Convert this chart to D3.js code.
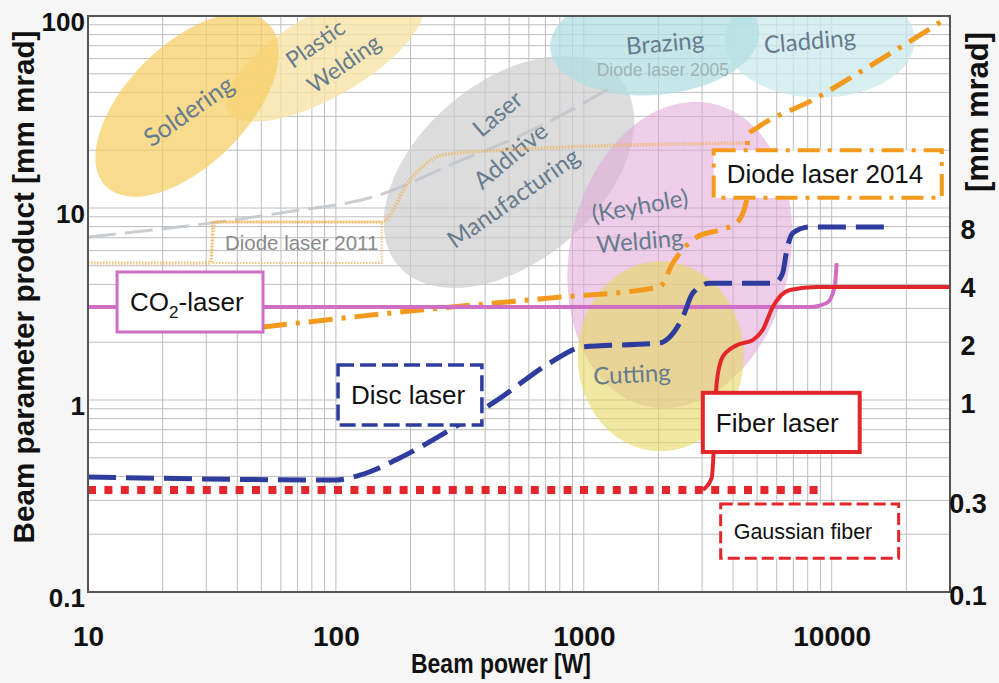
<!DOCTYPE html>
<html>
<head>
<meta charset="utf-8">
<style>
  body { margin: 0; background: #f6f6f6; }
  svg { display: block; }
  .tick text { font-family: "Liberation Sans", Arial, sans-serif; font-weight: bold; fill: #111; }
  .area-label { font-family: Lato, "Open Sans", sans-serif; fill: #677b8e; }
  .box-label { font-family: "Liberation Sans", Arial, sans-serif; fill: #111; }
</style>
</head>
<body>
<svg id="chart" width="999" height="683"></svg>
<script src="https://d3js.org/d3.v7.min.js"></script>
<script>
// axis ticks
var xTicks = [10, 100, 1000, 10000];
var yTicks = [0.1, 1, 10, 100];
var yTicksRight = [0.1, 0.3, 1, 2, 4, 8];

// curves: [beam power W, BPP mm mrad]
var diode2005 = [[10, 7.06], [59, 9.4], [150, 11.7], [288, 16.7], [622, 25.5], [1273, 42]];
var diode2011 = [[10, 5.17], [31, 5.17], [32.5, 8.45], [153, 8.45], [199, 14], [270, 18.9], [458, 20], [4380, 21.8]];
var diode2014 = [[50.8, 2.4], [218, 2.94], [730, 3.4], [2023, 3.88], [2285, 5.17], [2857, 7.06], [3532, 7.68],
                 [4137, 8.36], [4540, 11], [4580, 24], [4985, 26.1], [8375, 36.5], [12980, 51], [30000, 100]];
var co2Laser = [[10, 3.05], [3000, 3.05], [8150, 3.05], [9550, 3.2], [10280, 3.88], [10470, 5.17]];
var discLaser = [[10, 0.397], [99, 0.383], [125, 0.406], [181, 0.499], [288, 0.698], [458, 1.02], [730, 1.56],
                 [991, 1.89], [2023, 1.98], [2222, 2.13], [2506, 2.7], [2754, 3.61], [3224, 4.06], [5888, 4.06],
                 [6339, 4.58], [6590, 6.04], [6970, 7.41], [8150, 7.96], [17620, 7.96]];
var gaussianFiber = [[10, 0.34], [9200, 0.34]];
var fiberLaser = [[3020, 0.34], [3281, 0.393], [3375, 0.723], [3435, 1.23], [3633, 1.68], [4137, 1.93], [4800, 2.05],
                  [5270, 2.32], [5781, 3.05], [6775, 3.74], [8710, 3.88], [30000, 3.88]];

// application areas: centre [W, mm mrad], half axes in decades
var areas = [
  { p: 90.4, v: 62.7, rx: 0.452, ry: 0.219, tilt: -30, fill: '#f8e4a6', op: 0.8 },
  { p: 25.1, v: 34.4, rx: 0.464, ry: 0.3125, tilt: -45, fill: '#f7cd62', op: 0.72 },
  { p: 499, v: 15.4, rx: 0.585, ry: 0.469, tilt: -40, fill: '#cdcdcd', op: 0.7 },
  { p: 8950, v: 75, rx: 0.383, ry: 0.3, tilt: 0, fill: '#cbeaee', op: 0.75 },
  { p: 1932, v: 75, rx: 0.423, ry: 0.286, tilt: -5, fill: '#b2dfe2', op: 0.75 },
  { p: 2438, v: 5.69, rx: 0.444, ry: 0.807, tilt: 12, fill: '#e0a8d8', op: 0.58 },
  { p: 2042, v: 1.69, rx: 0.335, ry: 0.495, tilt: 0, fill: '#e6d866', op: 0.62 }
];
var areaLabels = [
  { text: 'Soldering', p: 25.3, v: 32.4, rot: -35, size: 25 },
  { text: 'Plastic', p: 82.2, v: 72.3, rot: -35, size: 23 },
  { text: 'Welding', p: 107, v: 56.9, rot: -35, size: 23 },
  { text: 'Laser', p: 446, v: 31.3, rot: -40, size: 24 },
  { text: 'Additive', p: 503, v: 18.9, rot: -40, size: 24 },
  { text: 'Manufacturing', p: 517, v: 11.4, rot: -35, size: 24 },
  { text: 'Brazing', p: 2123, v: 73.3, rot: -5, size: 24 },
  { text: 'Cladding', p: 8150, v: 75, rot: -5, size: 24 },
  { text: '(Keyhole)', p: 1682, v: 10.4, rot: -10, size: 24 },
  { text: 'Welding', p: 1682, v: 6.81, rot: -5, size: 24 },
  { text: 'Cutting', p: 1563, v: 1.38, rot: -3, size: 24 }
];

var svg = d3.select('#chart');
var x = d3.scaleLog().domain([10, 30000]).range([88, 950]);
var y = d3.scaleLog().domain([0.1, 100]).range([592, 16]);

svg.append('clipPath').attr('id', 'plot').append('rect')
    .attr('x', 88).attr('y', 16).attr('width', 862).attr('height', 576);
svg.append('rect').attr('x', 88).attr('y', 16).attr('width', 862).attr('height', 576).attr('fill', '#fff');

// log grid
var xGrid = [], yGrid = [];
[10, 100, 1000, 10000].forEach(function (d) {
    for (var k = 1; k < 10; k++) if (d * k <= 30000) xGrid.push(d * k);
});
[0.1, 1, 10].forEach(function (d) {
    for (var k = 1; k < 10; k++) yGrid.push(d * k);
});
var grid = svg.append('g').attr('stroke', '#bdbdbd').attr('stroke-width', 1);
grid.selectAll('.gx').data(xGrid).enter().append('line')
    .attr('x1', function (d) { return x(d); }).attr('x2', function (d) { return x(d); })
    .attr('y1', 16).attr('y2', 592);
grid.selectAll('.gy').data(yGrid).enter().append('line')
    .attr('y1', function (d) { return y(d); }).attr('y2', function (d) { return y(d); })
    .attr('x1', 88).attr('x2', 950);

var plot = svg.append('g').attr('clip-path', 'url(#plot)');

// application areas
plot.selectAll('ellipse').data(areas).enter().append('ellipse')
    .attr('transform', function (d) { return 'translate(' + x(d.p) + ',' + y(d.v) + ') rotate(' + d.tilt + ')'; })
    .attr('rx', function (d) { return x(d.p * Math.pow(10, d.rx)) - x(d.p); })
    .attr('ry', function (d) { return y(d.v) - y(d.v * Math.pow(10, d.ry)); })
    .attr('fill', function (d) { return d.fill; })
    .attr('opacity', function (d) { return d.op; });

plot.selectAll('.area-label').data(areaLabels).enter().append('text')
    .attr('class', 'area-label')
    .attr('transform', function (d) { return 'translate(' + x(d.p) + ',' + y(d.v) + ') rotate(' + d.rot + ')'; })
    .attr('text-anchor', 'middle').attr('dominant-baseline', 'central')
    .attr('font-size', function (d) { return d.size; })
    .text(function (d) { return d.text; });

plot.append('text')
    .attr('x', x(2084)).attr('y', y(52.3))
    .attr('text-anchor', 'middle').attr('dominant-baseline', 'central')
    .attr('font-family', '"Liberation Sans", Arial, sans-serif')
    .attr('font-size', 17.5).attr('fill', '#9fb3b5')
    .text('Diode laser 2005');

// laser curves
var line = d3.line()
    .x(function (d) { return x(d[0]); })
    .y(function (d) { return y(d[1]); })
    .curve(d3.curveMonotoneX);

var series = [
  { data: diode2005, color: '#bfc5ca', width: 3, dash: '28,9', op: 0.85 },
  { data: diode2011, color: '#f2b45a', width: 3.5, dash: '1.5,1.5', op: 0.75 },
  { data: diode2014, color: '#f39a1e', width: 5, dash: '24,9,4,9', op: 1 },
  { data: co2Laser, color: '#cf6ec4', width: 4, dash: null, op: 1 },
  { data: discLaser, color: '#2e3c9e', width: 5, dash: '28,10', op: 1 },
  { data: gaussianFiber, color: '#e3262b', width: 8, dash: '8,8.4', op: 1 },
  { data: fiberLaser, color: '#e3262b', width: 4, dash: null, op: 1 }
];
plot.selectAll('path.curve').data(series).enter().append('path')
    .attr('class', 'curve')
    .attr('d', function (d) { return line(d.data); })
    .attr('fill', 'none')
    .attr('stroke', function (d) { return d.color; })
    .attr('stroke-width', function (d) { return d.width; })
    .attr('stroke-dasharray', function (d) { return d.dash; })
    .attr('opacity', function (d) { return d.op; });

// legend boxes: corners in [W, mm mrad]
var boxes = [
  { text: 'Diode laser 2011', p0: 31.6, p1: 153, v0: 8.45, v1: 5.17, stroke: '#f2b45a', dash: '1.5,1.5', sw: 2, fill: 'none', size: 20.5, color: '#8a8a8a', op: 0.8 },
  { text: 'CO2-laser', p0: 13.1, p1: 50.8, v0: 4.64, v1: 2.26, stroke: '#cf6ec4', dash: null, sw: 3, fill: '#fff', size: 26, color: '#111', op: 1 },
  { text: 'Disc laser', p0: 102, p1: 388, v0: 1.52, v1: 0.741, stroke: '#2e3c9e', dash: '16,6', sw: 3.5, fill: '#fff', size: 26, color: '#111', op: 1 },
  { text: 'Fiber laser', p0: 3020, p1: 12970, v0: 1.09, v1: 0.536, stroke: '#e3262b', dash: null, sw: 4, fill: '#fff', size: 26, color: '#111', op: 1 },
  { text: 'Gaussian fiber', p0: 3565, p1: 18620, v0: 0.287, v1: 0.15, stroke: '#e3262b', dash: '12,5', sw: 3, fill: '#fff', size: 21.5, color: '#111', op: 1 },
  { text: 'Diode laser 2014', p0: 3342, p1: 27800, v0: 20, v1: 11.3, stroke: '#f39a1e', dash: '22,8,4,8', sw: 4, fill: '#fff', size: 26, color: '#111', op: 1 }
];
var box = svg.selectAll('g.box').data(boxes).enter().append('g').attr('class', 'box');
box.append('rect')
    .attr('x', function (d) { return x(d.p0); })
    .attr('y', function (d) { return y(d.v0); })
    .attr('width', function (d) { return x(d.p1) - x(d.p0); })
    .attr('height', function (d) { return y(d.v1) - y(d.v0); })
    .attr('fill', function (d) { return d.fill; })
    .attr('stroke', function (d) { return d.stroke; })
    .attr('stroke-width', function (d) { return d.sw; })
    .attr('stroke-dasharray', function (d) { return d.dash; })
    .attr('opacity', function (d) { return d.op; });
var boxText = box.append('text').attr('class', 'box-label')
    .attr('x', function (d) { return x(d.p0) + 13; })
    .attr('y', function (d) { return (y(d.v0) + y(d.v1)) / 2 + d.size * 0.36; })
    .attr('font-size', function (d) { return d.size; })
    .style('fill', function (d) { return d.color; });
boxText.each(function (d) {
    var t = d3.select(this);
    if (d.text === 'CO2-laser') {
        t.append('tspan').text('CO');
        t.append('tspan').attr('font-size', 17).attr('dy', 7).text('2');
        t.append('tspan').attr('dy', -7).text('-laser');
    } else {
        t.text(d.text);
    }
});

// frame
svg.append('rect').attr('x', 88).attr('y', 16).attr('width', 862).attr('height', 576)
    .attr('fill', 'none').attr('stroke', '#555').attr('stroke-width', 2);

// axes
var xAxis = svg.append('g').attr('transform', 'translate(0,592)')
    .call(d3.axisBottom(x).tickValues(xTicks).tickFormat(d3.format('d')).tickSize(0).tickPadding(34));
var yAxis = svg.append('g').attr('transform', 'translate(88,0)')
    .call(d3.axisLeft(y).tickValues(yTicks).tickFormat(function (d) { return d; }).tickSize(0).tickPadding(3));
var yAxisRight = svg.append('g').attr('transform', 'translate(950,0)')
    .call(d3.axisRight(y).tickValues(yTicksRight).tickFormat(function (d) { return d; }).tickSize(0).tickPadding(18));
[xAxis, yAxis, yAxisRight].forEach(function (a) { a.select('.domain').remove(); });
xAxis.selectAll('text').attr('font-size', 28);
yAxis.selectAll('text').attr('font-size', 26).attr('dy', '0.55em');
yAxisRight.selectAll('text').attr('font-size', 27).attr('text-anchor', 'middle').attr('dy', '0.45em');

// titles
svg.append('text').attr('transform', 'translate(501,673)')
    .attr('text-anchor', 'middle').attr('font-family', '"Liberation Sans", Arial, sans-serif')
    .attr('font-weight', 'bold').attr('font-size', 27).attr('fill', '#111')
    .attr('textLength', 180).attr('lengthAdjust', 'spacingAndGlyphs')
    .text('Beam power [W]');
svg.append('text').attr('transform', 'translate(34,287) rotate(-90)')
    .attr('text-anchor', 'middle').attr('font-family', '"Liberation Sans", Arial, sans-serif')
    .attr('font-weight', 'bold').attr('font-size', 30).attr('fill', '#111')
    .attr('textLength', 513).attr('lengthAdjust', 'spacingAndGlyphs')
    .text('Beam parameter product [mm mrad]');
svg.append('text').attr('transform', 'translate(988,112) rotate(-90)')
    .attr('text-anchor', 'middle').attr('font-family', '"Liberation Sans", Arial, sans-serif')
    .attr('font-weight', 'bold').attr('font-size', 31).attr('fill', '#111')
    .text('[mm mrad]');
</script>
</body>
</html>
